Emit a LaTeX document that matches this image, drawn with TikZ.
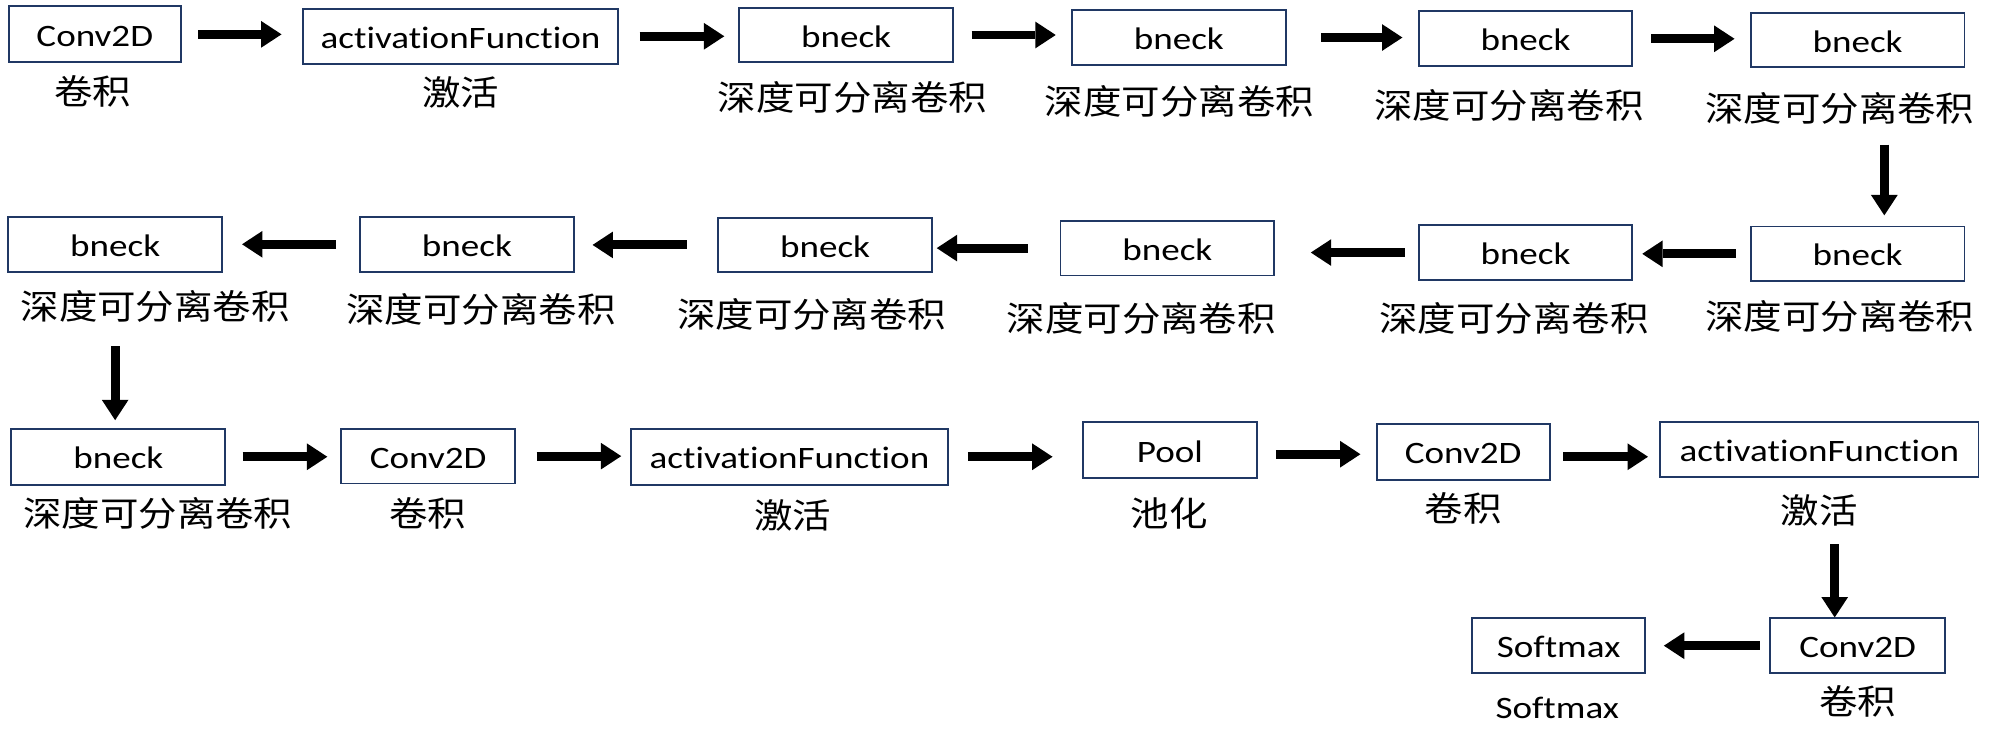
\documentclass[tikz,border=0pt]{standalone}
\usepackage{fontspec}
\setmainfont{Carlito}[FakeStretch=1.19, Ligatures=NoCommon]
\newfontfamily\cjk{Noto Sans CJK SC}[FakeStretch=1.12]
\usetikzlibrary{arrows.meta}
\definecolor{boxblue}{HTML}{203864}
\tikzset{
  box/.style={draw=boxblue, line width=1.5pt, inner sep=0pt, minimum height=43pt, text height=22pt, text depth=3pt, font=\fontsize{24.5}{30}\selectfont},
  bn/.style={box, minimum width=168pt},
  cv/.style={box, minimum width=137pt},
  af/.style={box, minimum width=249pt},
  lbl/.style={inner sep=0pt, text height=19.5pt, text depth=0pt, font=\fontsize{27}{32}\selectfont\cjk},
  arr/.style={line width=7pt, -{Triangle[length=16pt,width=21pt,line width=0pt]}}
}
\begin{document}
\begin{tikzpicture}[x=1pt,y=-1pt]
\useasboundingbox (0,0) rectangle (1568,594);
% row 1
\node[cv, minimum width=135pt, minimum height=44pt] (c1) at (74.5,27) {Conv2D};
\node[af, minimum width=248pt] (a1) at (362,28.5) {activationFunction};
\node[bn] (b1) at (665,27.5) {bneck};
\node[bn] (b2) at (926.5,29.5) {bneck};
\node[bn] (b3) at (1199,30.5) {bneck};
\node[bn] (b4) at (1460,31.5) {bneck};
% row 2
\node[bn] (b5) at (1460,199.5) {bneck};
\node[bn] (b6) at (1199,198.5) {bneck};
\node[bn] (b7) at (917.5,195) {bneck};
\node[bn] (b8) at (648.5,192.5) {bneck};
\node[bn] (b9) at (367,192) {bneck};
\node[bn] (b10) at (90.5,192) {bneck};
% row 3
\node[bn, minimum height=44pt] (b11) at (93,359) {bneck};
\node[cv] (c2) at (336.5,358.5) {Conv2D};
\node[af, minimum height=44pt] (a2) at (620.5,359) {activationFunction};
\node[cv, minimum height=44pt] (p) at (919.5,354) {Pool};
\node[cv, minimum width=136pt, minimum height=44pt] (c3) at (1150,355) {Conv2D};
\node[af, minimum width=250pt] (a3) at (1430,353.5) {activationFunction};
% row 4
\node[cv, minimum width=138pt] (c4) at (1460,507.5) {Conv2D};
\node[cv, minimum width=136pt] (s) at (1225,507.5) {Softmax};
% labels
\node[lbl] (lc1) at (73,72) {卷积};
\node[lbl] (la1) at (362,73) {激活};
\node[lbl] (lb1) at (670,77) {深度可分离卷积};
\node[lbl] (lb2) at (927,80) {深度可分离卷积};
\node[lbl] (lb3) at (1186,83) {深度可分离卷积};
\node[lbl] (lb4) at (1446,86) {深度可分离卷积};
\node[lbl] (lb5) at (1446,249) {深度可分离卷积};
\node[lbl] (lb6) at (1190,251) {深度可分离卷积};
\node[lbl] (lb7) at (897,251) {深度可分离卷积};
\node[lbl] (lb8) at (638,248) {深度可分离卷积};
\node[lbl] (lb9) at (378,244) {深度可分离卷积};
\node[lbl] (lb10) at (122,241) {深度可分离卷积};
\node[lbl] (lb11) at (124,404) {深度可分离卷积};
\node[lbl] (lc2) at (336,404) {卷积};
\node[lbl] (la2) at (623,406) {激活};
\node[lbl] (lp) at (919,404) {池化};
\node[lbl] (lc3) at (1150,400) {卷积};
\node[lbl] (la3) at (1430,402) {激活};
\node[lbl] (lc4) at (1460,552) {卷积};
\node[inner sep=0pt, text height=15.7pt, text depth=0pt, font=\fontsize{24.5}{30}\selectfont] (ls) at (1224,557) {Softmax};
% arrows row 1
\draw[arr, shorten <=13pt, shorten >=16pt] (c1.east) -- (c1.east -| a1.west);
\draw[arr, shorten <=16pt, shorten >=11pt] (a1.east) -- (a1.east -| b1.west);
\draw[arr, shorten <=14pt, shorten >=12pt] (b1.east) -- (b1.east -| b2.west);
\draw[arr, shorten <=27pt, shorten >=12pt] (b2.east) -- (b2.east -| b3.west);
\draw[arr, shorten <=14pt, shorten >=12pt] (b3.east) -- (b3.east -| b4.west);
\draw[arr, shorten <=60pt, shorten >=8pt] ([xshift=21pt]b4.south) -- ([xshift=21pt]b4.south |- b5.north);
% arrows row 2
\draw[arr, shorten <=11pt, shorten >=7pt] (b5.west) -- (b5.west -| b6.east);
\draw[arr, shorten <=10pt, shorten >=28pt] (b6.west) -- (b6.west -| b7.east);
\draw[arr, shorten <=25pt, shorten >=3pt] (b7.west) -- (b7.west -| b8.east);
\draw[arr, shorten <=24pt, shorten >=14pt] (b8.west) -- (b8.west -| b9.east);
\draw[arr, shorten <=18pt, shorten >=15pt] (b9.west) -- (b9.west -| b10.east);
\draw[arr, shorten <=58pt, shorten >=6pt] (b10.south) -- (b10.south |- b11.north);
% arrows row 3
\draw[arr, shorten <=13pt, shorten >=10pt] (b11.east) -- (b11.east -| c2.west);
\draw[arr, shorten <=16pt, shorten >=7pt] (c2.east) -- (c2.east -| a2.west);
\draw[arr, shorten <=15pt, shorten >=23pt] (a2.east) -- (a2.east -| p.west);
\draw[arr, shorten <=14pt, shorten >=12pt] ([yshift=-3pt]p.east) -- ([yshift=-3pt]p.east -| c3.west);
\draw[arr, shorten <=10pt, shorten >=9pt] ([yshift=-4pt]c3.east) -- ([yshift=-4pt]c3.east -| a3.west);
\draw[arr, shorten <=52pt, shorten >=0pt] ([xshift=12pt]a3.south) -- ([xshift=12pt]a3.south |- c4.north);
% row 4
\draw[arr, shorten <=7pt, shorten >=14pt] (c4.west) -- (c4.west -| s.east);
\end{tikzpicture}
\end{document}
